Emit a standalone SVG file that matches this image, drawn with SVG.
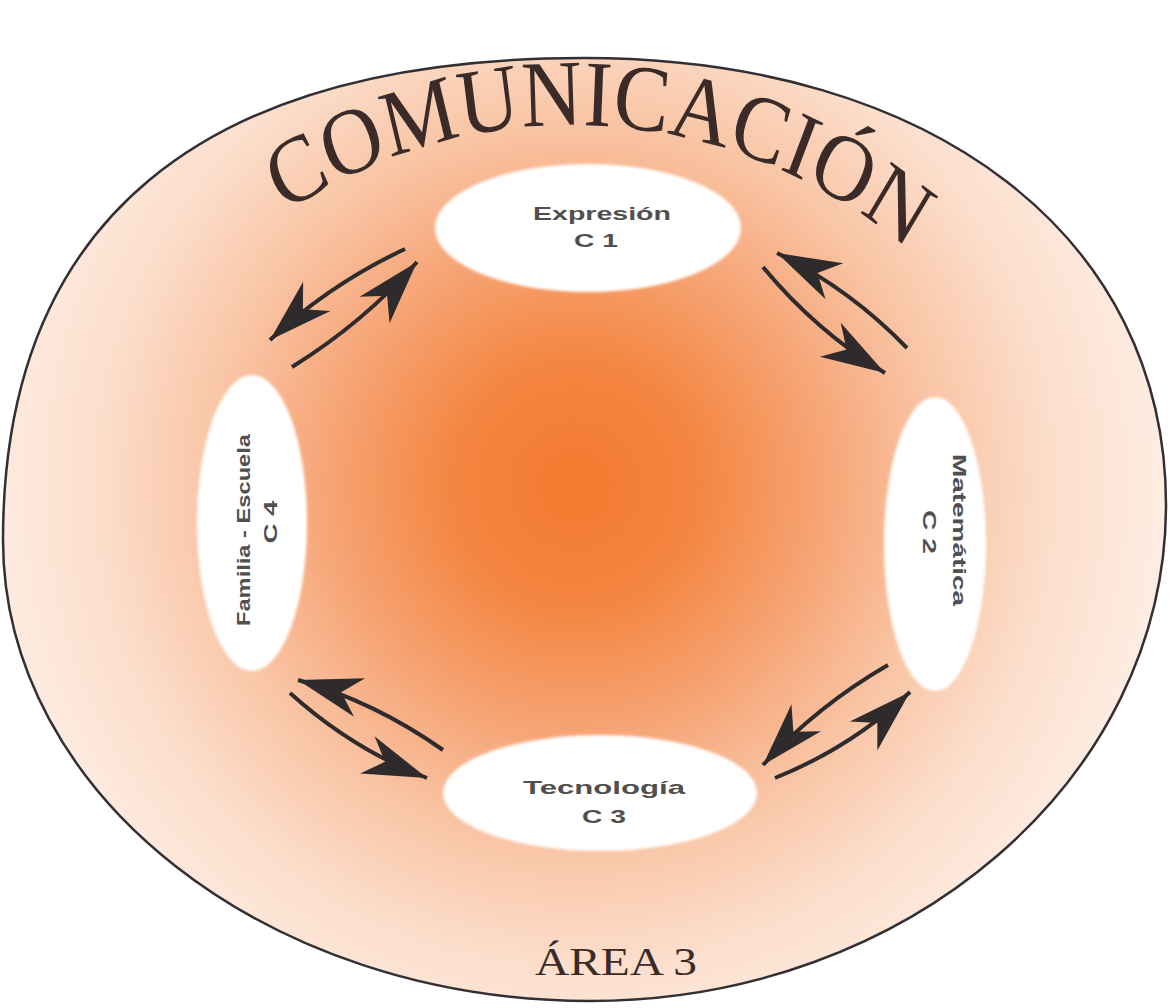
<svg xmlns="http://www.w3.org/2000/svg" width="1169" height="1008" viewBox="0 0 1169 1008">
  <defs>
    <radialGradient id="bg" gradientUnits="userSpaceOnUse" cx="575" cy="485" r="600">
      <stop offset="0" stop-color="#F3792F"/>
      <stop offset="0.2" stop-color="#F48540"/>
      <stop offset="0.4" stop-color="#F6A272"/>
      <stop offset="0.6" stop-color="#F9C4A4"/>
      <stop offset="0.8" stop-color="#FCDECC"/>
      <stop offset="1" stop-color="#FEEEE4"/>
    </radialGradient>
    <filter id="soft" x="-10%" y="-10%" width="120%" height="120%">
      <feGaussianBlur stdDeviation="1.6"/>
    </filter>
    <marker id="ah" viewBox="-66 -22 68 44" refX="0" refY="0" markerWidth="68" markerHeight="44" markerUnits="userSpaceOnUse" orient="auto">
      <path d="M0,0 L-64,-20 L-45,0 L-64,20 Z" fill="#2f2b2c"/>
    </marker>
    <path id="arc" d="M98.1,382.3 A565,565 0 0 1 1075.4,433.5"/>
  </defs>
  <style>
    .node { fill: #ffffff; filter: url(#soft); }
    .lbl { font-family: "Liberation Sans", Arial, sans-serif; font-weight: bold; font-size: 19px; fill: #505050; text-anchor: middle; }
    .title { font-family: "Liberation Serif", "Times New Roman", serif; fill: #3b2b28; }
    .arr { fill: none; stroke: #2f2b2c; stroke-width: 4; marker-end: url(#ah); }
  </style>
  <rect width="1169" height="1008" fill="#ffffff"/>
  <g id="area">
    <path d="M3,540 C3,222 200.5,58 584,58 C933,58 1166,237 1166,505 C1166,779 908,1001 590,1001 C266,1001 3,794 3,540 Z" fill="url(#bg)" stroke="#333033" stroke-width="2.5"/>
    <g transform="matrix(1 0 0 1.12 0 -15)">
      <text class="title" font-size="84"><textPath href="#arc" startOffset="50%" text-anchor="middle">COMUNICACIÓN</textPath></text>
    </g>
    <text class="title" x="616" y="975" font-size="40" text-anchor="middle" textLength="162" lengthAdjust="spacingAndGlyphs">ÁREA 3</text>
  </g>
  <g id="connectors">
    <path class="arr" d="M405,249 Q330,284 270,340"/>
    <path class="arr" d="M292,367 Q363,323 417,262"/>
    <path class="arr" d="M907,348 Q850,289 777,253"/>
    <path class="arr" d="M763,267 Q816,331 885,373"/>
    <path class="arr" d="M443,750 Q375,702 298,680"/>
    <path class="arr" d="M290,693 Q352,749 427,778"/>
    <path class="arr" d="M888,665 Q817,706 763,765"/>
    <path class="arr" d="M775,778 Q852,747 910,692"/>
  </g>
  <g id="c1">
    <ellipse class="node" cx="588" cy="228" rx="153" ry="64"/>
    <text class="lbl" x="602" y="220" textLength="138" lengthAdjust="spacingAndGlyphs">Expresión</text>
    <text class="lbl" x="596" y="247" textLength="44" lengthAdjust="spacingAndGlyphs">C 1</text>
  </g>
  <g id="c2">
    <ellipse class="node" cx="935" cy="544" rx="51" ry="147"/>
    <g transform="translate(940,530) rotate(90)">
      <text class="lbl" x="0" y="-13" textLength="152" lengthAdjust="spacingAndGlyphs">Matemática</text>
      <text class="lbl" x="2" y="17" textLength="44" lengthAdjust="spacingAndGlyphs">C 2</text>
    </g>
  </g>
  <g id="c3">
    <ellipse class="node" cx="600" cy="793" rx="157" ry="58"/>
    <text class="lbl" x="604" y="794" textLength="162" lengthAdjust="spacingAndGlyphs">Tecnología</text>
    <text class="lbl" x="604" y="823" textLength="44" lengthAdjust="spacingAndGlyphs">C 3</text>
  </g>
  <g id="c4">
    <ellipse class="node" cx="252" cy="523" rx="55" ry="148"/>
    <g transform="translate(260,530) rotate(-90)">
      <text class="lbl" x="0" y="-10" textLength="192" lengthAdjust="spacingAndGlyphs">Familia - Escuela</text>
      <text class="lbl" x="8" y="17" textLength="43" lengthAdjust="spacingAndGlyphs">C 4</text>
    </g>
  </g>
</svg>
